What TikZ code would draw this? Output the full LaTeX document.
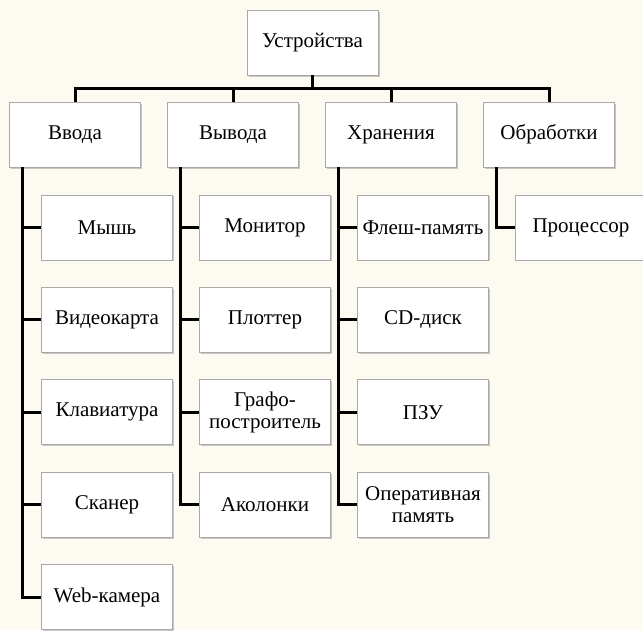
\documentclass[tikz,border=0pt]{standalone}
\usepackage{fontspec}
\setmainfont{Liberation Serif}
\usetikzlibrary{shadows}
\definecolor{paper}{HTML}{FDFAF2}
\definecolor{boxline}{HTML}{A8A8A8}
\tikzset{
    box/.style={
        draw=boxline,
        line width=0.8pt,
        fill=white,
        minimum width=131pt,
        minimum height=65pt,
        inner sep=1pt,
        align=center,
        font=\fontsize{21}{22}\selectfont,
        drop shadow={shadow xshift=1.5pt, shadow yshift=-1.5pt, opacity=0.35, fill=black!60}
    },
    link/.style={
        line width=3pt
    }
}

\begin{document}
\begin{tikzpicture}[x=1pt, y=-1pt]
    \fill [paper] (0, 0) rectangle (643, 630);
    \useasboundingbox (0, 0) rectangle (643, 630);

    \node [box] (dev) at (312.5, 42.5) {Устройства};
    \foreach \name/\txt [count=\i from 0] in {inp/Ввода, outp/Вывода, store/Хранения, proc/Обработки} {
        \node [box] (\name) at (75 + 158 * \i, 134.5) {\txt};
        \draw [link] (dev.south) -- ++(0, 13) -| (\name.north);
    }

    % children of each group
    \foreach \txt [count=\j] in {Мышь, Видеокарта, Клавиатура, Сканер, Web-камера} {
        \node [box] (inp\j) at (107, 135 + 92.4 * \j) {\txt};
        \draw [link] ([xshift=13pt]inp.south west) |- (inp\j.west);
    }
    \foreach \txt [count=\j] in {Монитор, Плоттер, {Графо-\\построитель}, Аколонки} {
        \node [box] (outp\j) at (265, 135 + 92.4 * \j) {\txt};
        \draw [link] ([xshift=13pt]outp.south west) |- (outp\j.west);
    }
    \foreach \txt [count=\j] in {Флеш-память, CD-диск, ПЗУ, {Оперативная\\память}} {
        \node [box] (store\j) at (423, 135 + 92.4 * \j) {\txt};
        \draw [link] ([xshift=13pt]store.south west) |- (store\j.west);
    }
    \node [box] (proc1) at (581, 227.4) {Процессор};
    \draw [link] ([xshift=13pt]proc.south west) |- (proc1.west);
\end{tikzpicture}
\end{document}
